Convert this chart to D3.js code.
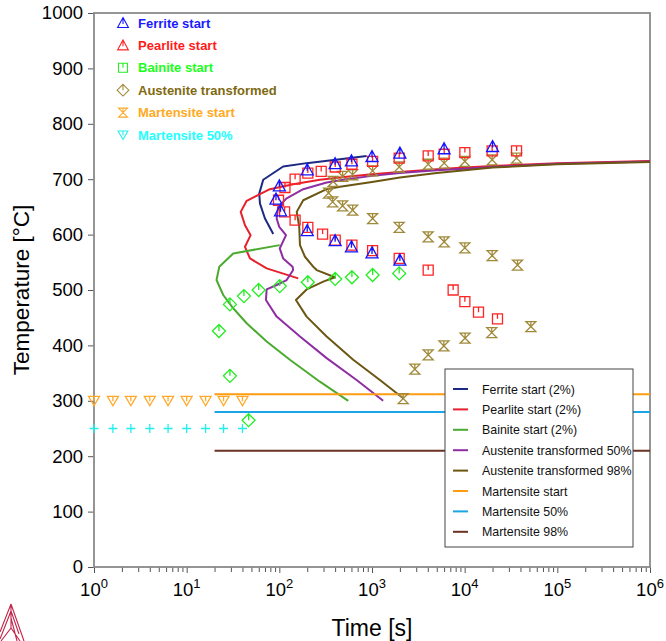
<!DOCTYPE html>
<html><head><meta charset="utf-8">
<script src="https://cdn.jsdelivr.net/npm/d3@7"></script>
<style>
html,body{margin:0;padding:0;background:#fff;}
svg{display:block;font-family:"Liberation Sans",Arial,sans-serif;}
</style></head>
<body>
<svg id="chart" width="666" height="641"></svg>
<script>
// ---------- DATA ----------
const yTicks = [0,100,200,300,400,500,600,700,800,900,1000];
const xDecades = [0,1,2,3,4,5,6];

// experimental points [time s, temperature °C]
const ferriteStartPts = [[100,688],[92,664],[103,643],[200,717],[200,607],[400,728],[400,589],[600,733],[600,578],[1000,741],[1000,567],[2000,747],[2000,554],[6000,755],[20000,759]];
const pearliteStartPts = [[115,685],[98,662],[114,641],[148,700],[203,711],[283,714],[401,722],[607,727],[1015,732],[1965,738],[4040,742],[6010,745],[10050,748],[19800,751],[36300,751],
  [148,626],[203,613],[293,601],[401,590],[607,581],[1015,571],[1965,557],[4040,536],[7510,500],[10050,479],[14100,460],[22600,448]];
const bainiteStartPts = [[22.3,426],[29.3,345],[46.6,265],[29.3,474],[41.5,489],[59.8,500],[101,507],[203,514],[401,520],[607,523],[1015,527],[1965,530]];
const austeniteTransPts = [[340,675],[381,696],[482,705],[618,708],[1015,715],[1965,722],[4040,727],[6010,729],[10050,732],[19800,735],[36300,738],
  [376,659],[482,652],[618,644],[1015,629],[1965,613],[4040,596],[6010,587],[10050,576],[19800,562],[37200,545],
  [51800,434],[19600,423],[10100,413],[5970,399],[4040,383],[2900,357],[2170,304]];
const martStartPts = [[1,300],[1.6,300],[2.5,300],[4,300],[6.3,300],[10,300],[16,300],[25,300],[40,300]];
const mart50Pts = [[1,250],[1.6,250],[2.5,250],[4,250],[6.3,250],[10,250],[16,250],[25,250],[40,250]];

// calculated curves [time s, temperature °C]
const ferriteCurve = [[86,601],[70,629],[61.8,656],[60.7,674],[67,699],[110,723],[197,729],[451,736],[875,742]];
const pearliteCurve = [[160,521],[73,539],[48.2,557],[42.6,578],[49,599],[42.6,617],[38.3,641],[44.4,661],[79,682],[141,691],[274,699],[532,704.5],[1000,709],[2000,713],[5000,718],[10000,721],[20000,724],[100000,729],[1000000,733]];
const bainiteCurve = [[101,581],[31.8,566],[22.5,542],[21,518],[24.8,491],[31.8,467],[44.4,440],[73,407],[130,374],[274,334.5],[554,300]];
const aust50Curve = [[1320,300],[682,337.5],[324,377],[167,416],[93.5,452],[71.7,482],[73,501],[93.5,509],[120,518],[130,527],[141,536],[139,542],[110,557],[101,575],[118,599],[99.8,614],[93.5,629],[97,650],[120,665.5],[181,682],[324,694],[532,700],[1000,706],[2000,711],[5000,716],[10000,719],[20000,722],[100000,728],[1000000,732]];
const aust98Curve = [[2170,304.5],[1217,337.5],[627,374],[324,416],[197,452],[151,482],[197,501],[298,515],[398,523],[253,536],[232,542],[189,560],[167,581],[164,614],[154,641],[181,662],[324,682],[451,686.5],[1000,695],[2000,703],[5000,711],[10000,716],[20000,721],[100000,727],[1000000,731]];
const martStartLine = [[20,312],[1000000,312]];
const mart50Line = [[20,280],[1000000,280]];
const mart98Line = [[20,210],[1000000,210]];

const pointLegend = ["Ferrite start","Pearlite start","Bainite start","Austenite transformed","Martensite start","Martensite 50%"];
const curveLegend = ["Ferrite start (2%)","Pearlite start (2%)","Bainite start (2%)","Austenite transformed 50%","Austenite transformed 98%","Martensite start","Martensite 50%","Martensite 98%"];

// ---------- STYLE ----------
const curveColors = ["#1c2a84","#e8202c","#4caa30","#8e2ea2","#6b5612","#ff9c12","#1aa6e6","#6a3222"];
const ptColors = ["#1414ff","#ff2424","#22ee22","#a08a3a","#ffa92a","#22eeee"];
const ptLegendText = ["#1a1aff","#ff1a1a","#1aff1a","#7f6a12","#ffaa22","#22ffff"];

const svg = d3.select("#chart");
const x = d3.scaleLog().domain([1,1e6]).range([94,650]);
const y = d3.scaleLinear().domain([0,1000]).range([567,13]);

// shapes
const shapes = {
  triUp: "M0,-6L6,5L-6,5Z M0,-6V1",
  square: "M-5,-5H5V5H-5Z M0,-5V0",
  diamond: "M0,-6.5L6.5,0L0,6.5L-6.5,0Z M0,-6.5V0",
  hourglass: "M-5,-5H5L-5,5H5Z M0,-5V0",
  triDown: "M-5.5,-4.5H5.5L0,5Z M0,-4.5V0.5",
  plus: "M-4.5,0H4.5M0,-4.5V4.5"
};

// ---------- FRAME / AXES ----------
const gx = svg.append("g").attr("transform","translate(0,567)")
  .call(d3.axisBottom(x).tickValues(xDecades.map(d=>Math.pow(10,d))).tickSize(6).tickFormat(""));
const minors = [];
xDecades.slice(0,-1).forEach(k=>{for(let m=2;m<=9;m++) minors.push(m*Math.pow(10,k));});
const gxm = svg.append("g").attr("transform","translate(0,567)")
  .call(d3.axisBottom(x).tickValues(minors).tickSize(5).tickFormat(""));
[gx,gxm].forEach(g=>{g.select(".domain").remove(); g.selectAll("line").attr("stroke","#555").attr("stroke-width",1);});

const gy = svg.append("g").attr("transform","translate(94,0)")
  .call(d3.axisLeft(y).tickValues(yTicks).tickSize(6).tickPadding(5).tickFormat(d3.format("d")));
gy.select(".domain").remove();
gy.selectAll("line").attr("stroke","#555");
gy.selectAll("text").attr("font-size",18.5).attr("fill","#000").attr("font-family","Liberation Sans, Arial, sans-serif");

// x decade labels with superscripts
const xl = svg.append("g").selectAll("text").data(xDecades).join("text")
  .attr("x",d=>x(Math.pow(10,d))).attr("y",596)
  .attr("text-anchor","middle").attr("font-size",18.5).attr("fill","#000");
xl.append("tspan").text("10");
xl.append("tspan").attr("dy",-8).attr("font-size",13).text(d=>d);

// frame
svg.append("rect").attr("x",94).attr("y",13).attr("width",556).attr("height",554)
  .attr("fill","none").attr("stroke","#8a8a8a").attr("stroke-width",1.8);

// axis titles
svg.append("text").attr("x",372).attr("y",636).attr("text-anchor","middle")
  .attr("font-size",23).attr("fill","#000").text("Time [s]");
svg.append("text").attr("transform","translate(29,290) rotate(-90)").attr("text-anchor","middle")
  .attr("font-size",22.5).attr("fill","#000").text("Temperature [°C]");

// ---------- CURVES ----------
const line = d3.line().x(d=>x(d[0])).y(d=>y(d[1]));
const curves = [ferriteCurve,pearliteCurve,bainiteCurve,aust50Curve,aust98Curve,martStartLine,mart50Line,mart98Line];
svg.append("clipPath").attr("id","pc").append("rect").attr("x",94).attr("y",13).attr("width",556).attr("height",554);
const cg = svg.append("g").attr("clip-path","url(#pc)");
curves.forEach((c,i)=>{
  cg.append("path").datum(c).attr("d",line).attr("fill","none")
    .attr("stroke",curveColors[i]).attr("stroke-width",2).attr("stroke-linejoin","round");
});

// ---------- POINTS ----------
const ptSets = [ferriteStartPts,pearliteStartPts,bainiteStartPts,austeniteTransPts,martStartPts,mart50Pts];
const ptShapes = ["triUp","square","diamond","hourglass","triDown","plus"];
const pg = svg.append("g");
[3,2,1,0,4,5].forEach(i=>{
  pg.append("g").selectAll("path").data(ptSets[i]).join("path")
    .attr("transform",d=>`translate(${x(d[0])},${y(d[1])})`)
    .attr("d",shapes[ptShapes[i]]).attr("fill","none")
    .attr("stroke",ptColors[i]).attr("stroke-width",1.3);
});

// ---------- LEGEND (points, top-left) ----------
const legShapes = ["triUp","triUp","square","diamond","hourglass","triDown"];
const lg = svg.append("g");
pointLegend.forEach((t,i)=>{
  const cy = 23 + i*22.4;
  lg.append("path").attr("transform",`translate(123,${cy}) scale(0.9)`).attr("d",shapes[legShapes[i]])
    .attr("fill","none").attr("stroke",ptColors[i]).attr("stroke-width",1.2);
  lg.append("text").attr("x",138).attr("y",cy+4.5).attr("font-size",13).attr("font-weight","bold")
    .attr("fill",ptLegendText[i]).text(t);
});

// ---------- LEGEND (curves, right box) ----------
const rg = svg.append("g");
rg.append("rect").attr("x",445).attr("y",369).attr("width",188).attr("height",178)
  .attr("fill","#fff").attr("stroke","#444").attr("stroke-width",1);
curveLegend.forEach((t,i)=>{
  const cy = 389 + i*20.4;
  rg.append("line").attr("x1",453).attr("x2",468).attr("y1",cy).attr("y2",cy)
    .attr("stroke",curveColors[i]).attr("stroke-width",2);
  rg.append("text").attr("x",482).attr("y",cy+4.5).attr("font-size",12.4).attr("fill","#111").text(t);
});

// ---------- LOGO ----------
const logo = svg.append("g").attr("fill","none").attr("stroke","#c3244a").attr("stroke-width",1.1);
logo.append("path").attr("d","M11,604 L0,632 M11,604 L24,641 M11,604 L11,628 L1,641 M11,628 L20,641 M11,611 L0,639 M11,611 L19,634 M11,618 L17,641");
</script>
</body></html>
